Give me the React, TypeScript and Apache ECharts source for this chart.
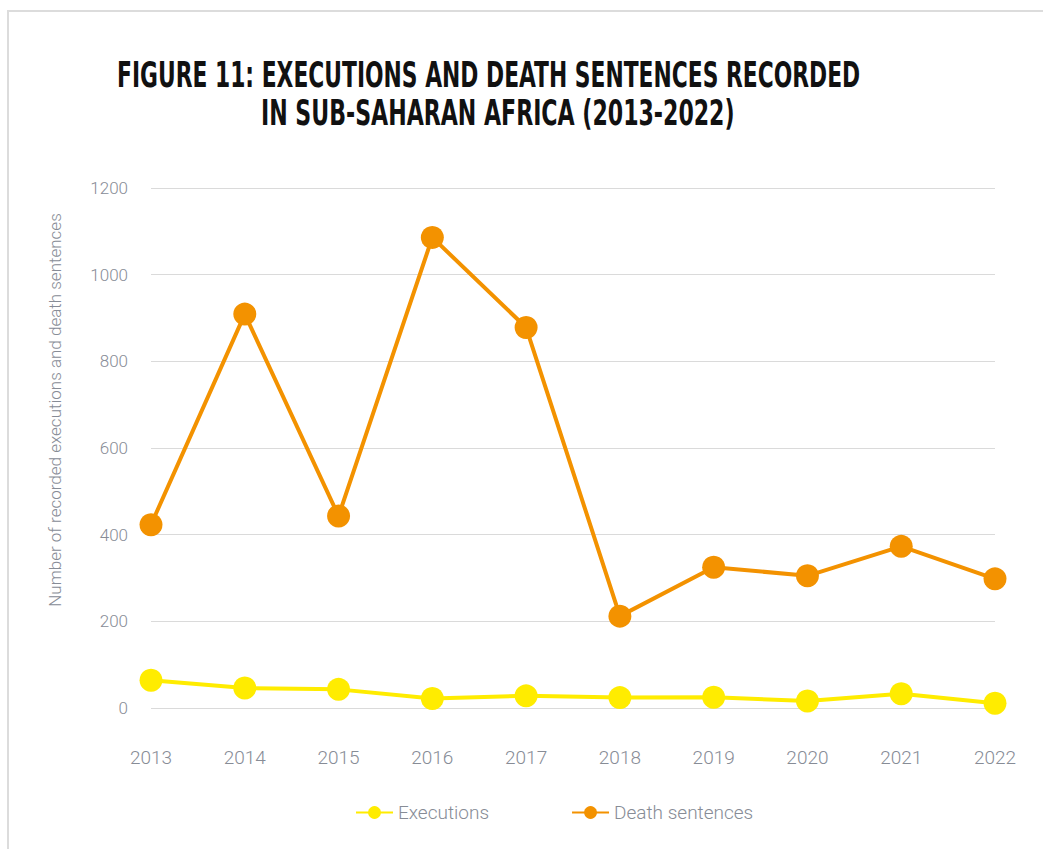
import React, { useEffect, useRef } from "react";
import * as echarts from "echarts";

const years = ["2013", "2014", "2015", "2016", "2017", "2018", "2019", "2020", "2021", "2022"];
const executions = [64, 46, 43, 22, 28, 24, 25, 16, 33, 11];
const deathSentences = [423, 909, 443, 1086, 878, 212, 325, 305, 373, 298];
const yTicks = [0, 200, 400, 600, 800, 1000, 1200];

const titleLine1 = "FIGURE 11: EXECUTIONS AND DEATH SENTENCES RECORDED";
const titleLine2 = "IN SUB-SAHARAN AFRICA (2013-2022)";
const yName = "Number of recorded executions and death sentences";

const GRAY = "#878c96";
const YELLOW = "#FFEC00";
const ORANGE = "#F39200";

const TITLE_FONT = "bold 36px 'DejaVu Sans Condensed'";

function measure(text: string, font: string): number {
  const c = document.createElement("canvas");
  const ctx = c.getContext("2d");
  if (!ctx) return text.length * 20;
  ctx.font = font;
  return ctx.measureText(text).width;
}

export default function App() {
  const ref = useRef<HTMLDivElement>(null);
  useEffect(() => {
    document.body.style.margin = "0";
    if (!ref.current) return;
    const chart = echarts.init(ref.current, undefined, { renderer: "svg" });
    const w1 = measure(titleLine1, TITLE_FONT);
    const w2 = measure(titleLine2, TITLE_FONT);
    const s1 = 743 / w1;
    const s2 = 474 / w2;
    chart.setOption({
      animation: false,
      backgroundColor: "#ffffff",
      graphic: [
        {
          type: "rect",
          shape: { x: 8, y: 11, width: 1100, height: 900 },
          style: { fill: "none", stroke: "#dcdcdc", lineWidth: 2 },
          silent: true,
          z: -1,
        },
        {
          type: "text",
          x: 117,
          y: 75,
          scaleX: s1,
          style: {
            text: titleLine1,
            font: TITLE_FONT,
            fill: "#111111",
            align: "left",
            verticalAlign: "middle",
          },
        },
        {
          type: "text",
          x: 261,
          y: 112,
          scaleX: s2,
          style: {
            text: titleLine2,
            font: TITLE_FONT,
            fill: "#111111",
            align: "left",
            verticalAlign: "middle",
          },
        },
        {
          type: "text",
          x: 55,
          y: 410,
          rotation: Math.PI / 2,
          style: {
            text: yName,
            fontFamily: "Roboto",
            fontWeight: 300,
            fontSize: 17,
            fill: GRAY,
            align: "center",
            verticalAlign: "middle",
          },
        },
      ],
      grid: { left: 151, right: 48, top: 188, bottom: 141, containLabel: false },
      xAxis: {
        type: "category",
        data: years,
        boundaryGap: false,
        axisLine: { show: false },
        axisTick: { show: false },
        splitLine: { show: false },
        axisLabel: {
          margin: 40,
          fontFamily: "Roboto",
          fontWeight: 300,
          fontSize: 19,
          color: GRAY,
        },
      },
      yAxis: {
        type: "value",
        min: yTicks[0],
        max: yTicks[yTicks.length - 1],
        interval: 200,
        axisLine: { show: false },
        axisTick: { show: false },
        splitLine: { lineStyle: { color: "#dadada", width: 1 } },
        axisLabel: {
          margin: 23,
          fontFamily: "Roboto",
          fontWeight: 300,
          fontSize: 17,
          color: GRAY,
          formatter: (v: number) => String(v),
        },
      },
      legend: {
        left: 350,
        top: 798,
        itemWidth: 37,
        itemHeight: 16,
        itemGap: 82,
        textStyle: { fontFamily: "Roboto", fontWeight: 300, fontSize: 19, color: GRAY },
        data: ["Executions", "Death sentences"],
      },
      series: [
        {
          name: "Executions",
          type: "line",
          data: executions,
          symbol: "circle",
          symbolSize: 23,
          lineStyle: { color: YELLOW, width: 4 },
          itemStyle: { color: YELLOW },
          z: 3,
        },
        {
          name: "Death sentences",
          type: "line",
          data: deathSentences,
          symbol: "circle",
          symbolSize: 23,
          lineStyle: { color: ORANGE, width: 4 },
          itemStyle: { color: ORANGE },
          z: 3,
        },
      ],
    });
    return () => chart.dispose();
  }, []);
  return (
    <div
      ref={ref}
      style={{ position: "fixed", left: 0, top: 0, width: 1043, height: 849 }}
    />
  );
}
